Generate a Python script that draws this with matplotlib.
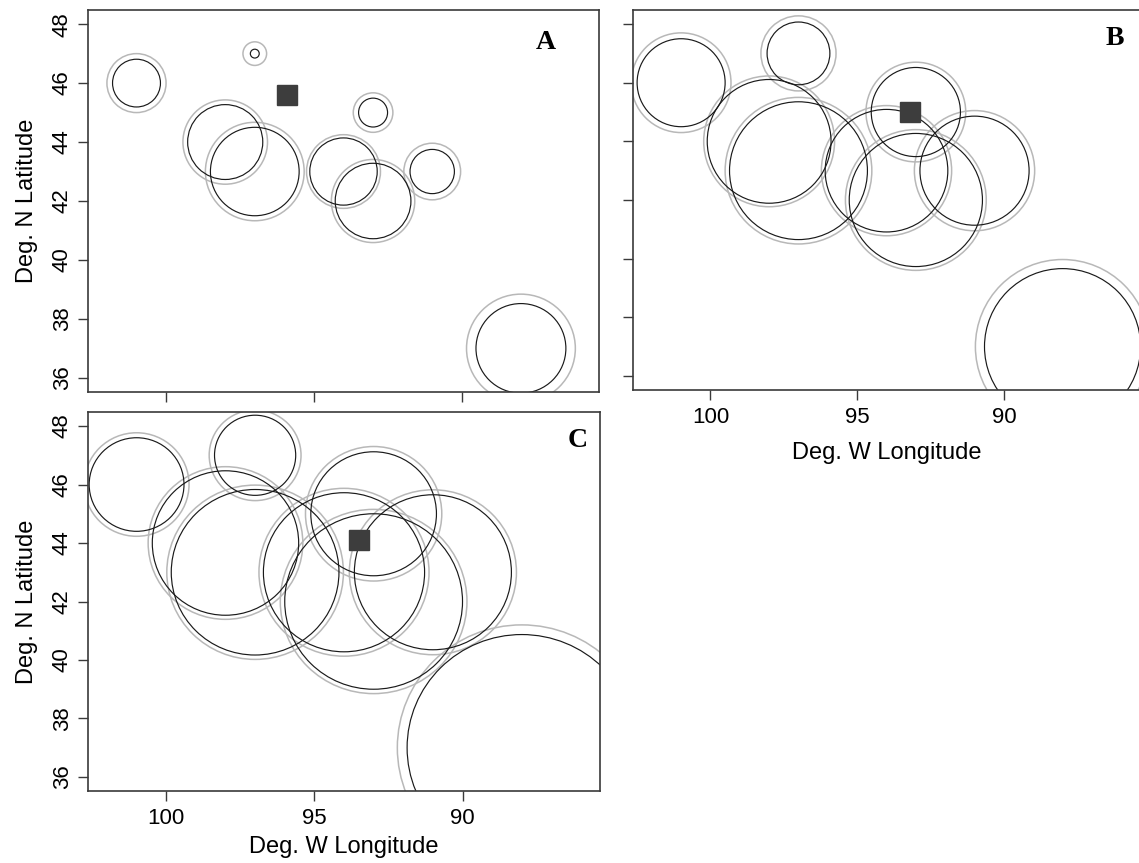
import matplotlib
matplotlib.use("Agg")
import matplotlib.pyplot as plt
from matplotlib.patches import Circle

plt.rcParams["font.family"] = "Liberation Sans"

# site centres (deg W, deg N), same in every panel
site_lon = [101, 97, 98, 97, 93, 94, 93, 91, 88]
site_lat = [46, 47, 44, 43, 45, 43, 42, 43, 37]

# circle radii in degrees: inner (dark) and outer (light) ring per panel
r_inner_a = [0.81, 0.15, 1.27, 1.50, 0.49, 1.14, 1.28, 0.75, 1.52]
r_outer_a = [1.00, 0.40, 1.43, 1.67, 0.67, 1.25, 1.41, 0.96, 1.84]
r_inner_b = [1.50, 1.07, 2.11, 2.35, 1.52, 2.09, 2.27, 1.86, 2.66]
r_outer_b = [1.70, 1.28, 2.23, 2.50, 1.70, 2.22, 2.40, 2.05, 2.97]
r_inner_c = [1.60, 1.37, 2.47, 2.83, 2.12, 2.72, 3.00, 2.65, 3.87]
r_outer_c = [1.77, 1.55, 2.61, 2.98, 2.30, 2.87, 3.15, 2.82, 4.20]

# estimated source location (square) per panel
square_lon = [95.9, 93.2, 93.5]
square_lat = [45.6, 45.0, 44.1]

panel_names = ["A", "B", "C"]
x_ticks = [100, 95, 90]
y_ticks = [36, 38, 40, 42, 44, 46, 48]

W, H = 1139, 863
fig = plt.figure(figsize=(W / 100, H / 100), dpi=100)

def px_axes(left, top, right, bottom):
    return fig.add_axes([left / W, 1 - bottom / H, (right - left) / W, (bottom - top) / H])

ax_a = px_axes(88, 10, 599, 392)
ax_b = px_axes(633, 10, 1140, 390)
ax_c = px_axes(88, 412, 600, 791)

panels = [
    (ax_a, r_inner_a, r_outer_a, 0.896, 0.915, None, True),
    (ax_b, r_inner_b, r_outer_b, 0.950, 0.925, 10, False),
    (ax_c, r_inner_c, r_outer_c, 0.957, 0.925, 5, True),
]

edge = "#3a3a3a"
for i, (ax, r_in, r_out, lx, ly, xpad, show_y) in enumerate(panels):
    for lon, lat, r in zip(site_lon, site_lat, r_out):
        ax.add_patch(Circle((lon, lat), r, fill=False, ec="#b8b8b8", lw=1.1))
    for lon, lat, r in zip(site_lon, site_lat, r_in):
        ax.add_patch(Circle((lon, lat), r, fill=False, ec="#1a1a1a", lw=0.85))
    ax.plot(square_lon[i], square_lat[i], "s", ms=14.5, color="#3d3d3d", mec="#3d3d3d")

    ax.set_xlim(102.64, 85.36)
    ax.set_ylim(35.52, 48.48)
    ax.set_xticks(x_ticks)
    ax.set_yticks(y_ticks)
    ax.tick_params(length=7, width=1, color=edge, labelsize=16, pad=5)
    ax.tick_params(axis="y", pad=4)
    for s in ax.spines.values():
        s.set_color(edge)
        s.set_linewidth(1.2)

    if xpad is not None:
        ax.set_xlabel("Deg. W Longitude", fontsize=17, labelpad=xpad)
    else:
        ax.set_xticklabels([])
    if show_y:
        ax.set_ylabel("Deg. N Latitude", fontsize=17, labelpad=10)
        for t in ax.get_yticklabels():
            t.set_rotation(90)
            t.set_va("center")
    else:
        ax.set_yticklabels([])

    ax.text(lx, ly, panel_names[i], transform=ax.transAxes, ha="center", va="center",
            fontsize=20, fontweight="bold", family="Liberation Serif")

fig.savefig("out.png", dpi=100)
